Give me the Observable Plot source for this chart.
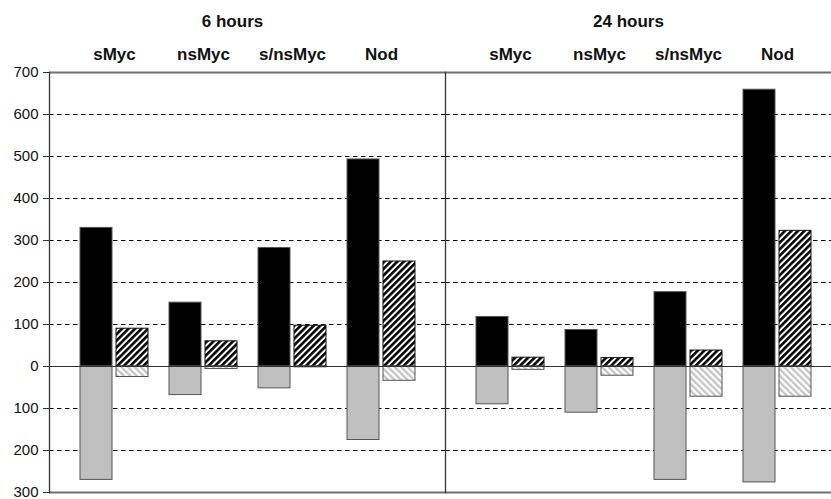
<!DOCTYPE html>
<html><head><meta charset="utf-8">
<script src="https://cdn.jsdelivr.net/npm/d3@7"></script>
<script src="https://cdn.jsdelivr.net/npm/@observablehq/plot@0.6"></script>
<style>
html,body{margin:0;padding:0;background:#fff;}
#wrap{width:831px;height:499px;overflow:hidden;}
#wrap svg{max-width:none !important;width:845px !important;height:499px !important;}
</style></head><body><div id="wrap"></div>
<script>
const times = ["6 hours", "24 hours"];
const drugs = ["sMyc", "nsMyc", "s/nsMyc", "Nod"];
// order: 6 hours (sMyc, nsMyc, s/nsMyc, Nod), then 24 hours (same order)
const solidUp   = [330, 152, 282, 493, 118, 87, 177, 659];
const solidDown = [-270, -68, -52, -175, -90, -110, -270, -276];
const hatchUp   = [90, 60, 97, 250, 21, 20, 38, 323];
const hatchDown = [-25, -6, -2, -34, -8, -22, -72, -72];
const yTicks = [-300, -200, -100, 0, 100, 200, 300, 400, 500, 600, 700];
const gridValues = [-200, -100, 100, 200, 300, 400, 500, 600];

const rows = solidUp.map((v, i) => ({
  time: times[Math.floor(i / 4)],
  drug: drugs[i % 4],
  solidUp: v,
  solidDown: solidDown[i],
  hatchUp: hatchUp[i],
  hatchDown: hatchDown[i]
}));

const chart = Plot.plot({
  width: 845,
  height: 499,
  marginLeft: 49,
  marginRight: 4,
  marginTop: 72,
  marginBottom: 7,
  style: {fontFamily: "'Liberation Sans', Arial, sans-serif", background: "white", color: "#111"},
  fx: {domain: times, padding: 0, label: null},
  x: {domain: drugs, paddingInner: 0.24, paddingOuter: 0.33, label: null},
  y: {domain: [-300, 700], label: null},
  marks: [
    Plot.ruleY(gridValues, {stroke: "#000", strokeDasharray: "4.5,3.5", strokeWidth: 1.2}),
    Plot.barY(rows, {fx: "time", x: "drug", y: "solidUp", fill: "#000", stroke: "#555", strokeWidth: 1, insetRight: 36}),
    Plot.barY(rows, {fx: "time", x: "drug", y: "solidDown", fill: "#c0c0c0", stroke: "#555", strokeWidth: 1, insetRight: 36}),
    Plot.barY(rows, {fx: "time", x: "drug", y: "hatchUp", fill: "url(#hatchUp)", stroke: "#111", strokeWidth: 1, insetLeft: 36}),
    Plot.barY(rows, {fx: "time", x: "drug", y: "hatchDown", fill: "url(#hatchDown)", stroke: "#555", strokeWidth: 1, insetLeft: 36}),
    Plot.ruleY([0], {stroke: "#333", strokeWidth: 1}),
    Plot.ruleY([700, -300], {stroke: "#707070", strokeWidth: 2}),
    Plot.frame({anchor: "left", stroke: "#333", strokeWidth: 1.3}),
    Plot.axisY({ticks: yTicks, tickSize: 6, tickPadding: 5, tickFormat: d => Math.abs(d), fontSize: 15, label: null, stroke: "#333"}),
    Plot.axisX({anchor: "top", tickSize: 0, tickPadding: 13, fontSize: 17, fontWeight: "bold", label: null}),
    Plot.axisFx({anchor: "top", tickSize: 0, tickPadding: 46, fontSize: 17, fontWeight: "bold", label: null, dx: -15})
  ]
});

const NS = "http://www.w3.org/2000/svg";
const defs = document.createElementNS(NS, "defs");
defs.innerHTML = `
<pattern id="hatchUp" patternUnits="userSpaceOnUse" width="4.6" height="4.6" patternTransform="rotate(45)">
  <rect width="4.6" height="4.6" fill="#fff"/><rect width="2.6" height="4.6" fill="#000"/>
</pattern>
<pattern id="hatchDown" patternUnits="userSpaceOnUse" width="4.6" height="4.6" patternTransform="rotate(-45)">
  <rect width="4.6" height="4.6" fill="#fff"/><rect width="2.3" height="4.6" fill="#c4c4c4"/>
</pattern>`;
chart.insertBefore(defs, chart.firstChild);
document.getElementById("wrap").appendChild(chart);
</script>
</body></html>
